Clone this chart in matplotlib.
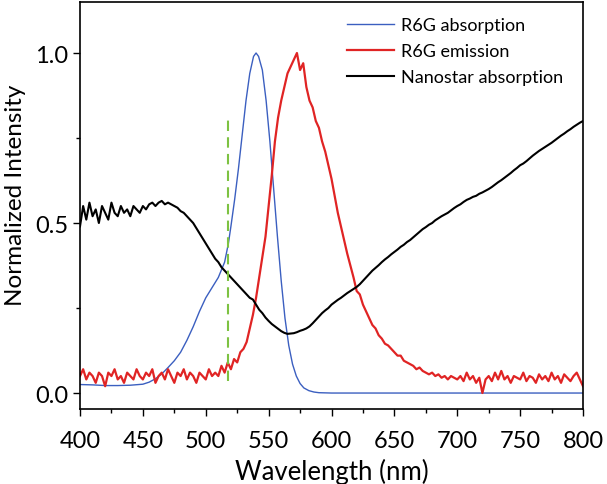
import numpy as np
import matplotlib
matplotlib.use("Agg")
import matplotlib.pyplot as plt
from matplotlib.ticker import MultipleLocator, FormatStrFormatter

plt.rcParams["font.family"] = ["Lato", "DejaVu Sans"]

# R6G absorption (smooth)
abs_wl = [400, 410, 420, 430, 440, 450, 455, 460, 465, 470, 475, 480, 485, 490,
          495, 500, 505, 510, 515, 518, 520, 523, 526, 529, 532, 535, 538, 540,
          542, 545, 548, 551, 554, 557, 560, 563, 566, 569, 572, 575, 578, 582,
          586, 590, 600, 700, 800]
abs_val = [0.025, 0.024, 0.022, 0.022, 0.023, 0.026, 0.032, 0.042, 0.056, 0.075,
           0.095, 0.12, 0.155, 0.195, 0.24, 0.28, 0.31, 0.34, 0.385, 0.44, 0.49,
           0.57, 0.66, 0.76, 0.86, 0.94, 0.99, 1.0, 0.99, 0.95, 0.86, 0.74, 0.6,
           0.46, 0.33, 0.22, 0.14, 0.085, 0.05, 0.028, 0.015, 0.007, 0.003,
           0.001, 0.0, 0.0, 0.0]

# sampled every 2.5 nm from 400 to 800
grid_wl = np.arange(400, 800.1, 2.5)

emis_val = [
    0.05, 0.07, 0.04, 0.06, 0.05, 0.03, 0.06, 0.05, 0.02, 0.06,
    0.05, 0.07, 0.04, 0.05, 0.03, 0.06, 0.05, 0.04, 0.07, 0.05,
    0.04, 0.06, 0.05, 0.07, 0.03, 0.05, 0.06, 0.04, 0.07, 0.05,
    0.03, 0.06, 0.05, 0.07, 0.04, 0.06, 0.05, 0.03, 0.06, 0.05,
    0.04, 0.07, 0.05, 0.06, 0.05, 0.08, 0.06, 0.09, 0.07, 0.10,
    0.09, 0.12, 0.13, 0.15, 0.19, 0.23, 0.28, 0.34, 0.40, 0.46,
    0.55, 0.64, 0.74, 0.81, 0.86, 0.90, 0.94, 0.96, 0.98, 1.00,
    0.95, 0.97, 0.90, 0.86, 0.84, 0.80, 0.78, 0.74, 0.71, 0.67,
    0.63, 0.58, 0.53, 0.49, 0.45, 0.41, 0.375, 0.34, 0.30, 0.29,
    0.26, 0.24, 0.22, 0.20, 0.19, 0.17, 0.16, 0.145, 0.14, 0.13,
    0.12, 0.11, 0.11, 0.095, 0.09, 0.085, 0.08, 0.07, 0.075, 0.065,
    0.06, 0.055, 0.06, 0.05, 0.055, 0.045, 0.05, 0.04, 0.05, 0.045,
    0.04, 0.05, 0.035, 0.06, 0.04, 0.05, 0.03, 0.045, 0.0, 0.04,
    0.05, 0.035, 0.06, 0.04, 0.065, 0.04, 0.05, 0.03, 0.05, 0.045,
    0.04, 0.06, 0.035, 0.05, 0.045, 0.03, 0.055, 0.04, 0.05, 0.035,
    0.06, 0.04, 0.05, 0.03, 0.055, 0.045, 0.035, 0.05, 0.06, 0.04,
    0.02,
]

star_val = [
    0.49, 0.55, 0.51, 0.56, 0.52, 0.54, 0.50, 0.55, 0.53, 0.51,
    0.56, 0.53, 0.52, 0.55, 0.53, 0.54, 0.52, 0.55, 0.54, 0.53,
    0.55, 0.54, 0.555, 0.56, 0.55, 0.56, 0.565, 0.555, 0.56, 0.555,
    0.55, 0.545, 0.535, 0.53, 0.52, 0.51, 0.50, 0.485, 0.47, 0.455,
    0.44, 0.425, 0.41, 0.395, 0.385, 0.37, 0.36, 0.35, 0.34, 0.33,
    0.32, 0.31, 0.30, 0.29, 0.28, 0.275, 0.26, 0.245, 0.235, 0.222,
    0.212, 0.203, 0.196, 0.189, 0.182, 0.177, 0.174, 0.175, 0.176, 0.179,
    0.183, 0.186, 0.19, 0.196, 0.205, 0.215, 0.225, 0.235, 0.243, 0.25,
    0.26, 0.267, 0.274, 0.28, 0.287, 0.294, 0.30, 0.306, 0.312, 0.32,
    0.33, 0.34, 0.35, 0.36, 0.368, 0.376, 0.385, 0.393, 0.40, 0.408,
    0.415, 0.422, 0.43, 0.436, 0.444, 0.45, 0.458, 0.466, 0.474, 0.482,
    0.488, 0.495, 0.50, 0.508, 0.514, 0.52, 0.525, 0.53, 0.537, 0.544,
    0.55, 0.555, 0.562, 0.568, 0.572, 0.577, 0.58, 0.586, 0.59, 0.595,
    0.60, 0.606, 0.613, 0.62, 0.626, 0.633, 0.64, 0.647, 0.655, 0.662,
    0.67, 0.675, 0.682, 0.69, 0.698, 0.705, 0.712, 0.718, 0.724, 0.73,
    0.736, 0.743, 0.75, 0.757, 0.763, 0.77, 0.776, 0.783, 0.789, 0.795,
    0.80,
]

excitation_wl = 518
excitation_range = (0.035, 0.815)

fig = plt.figure(figsize=(6.07, 4.85), dpi=100)
ax = fig.add_axes([0.1318, 0.1546, 0.8287, 0.8385])

ax.plot(abs_wl, abs_val, color="#3b5fc0", lw=1.0, label="R6G absorption")
ax.plot(grid_wl, emis_val, color="#e02424", lw=1.6, label="R6G emission")
ax.plot(grid_wl, star_val, color="black", lw=1.5, label="Nanostar absorption")
ax.plot([excitation_wl, excitation_wl], excitation_range, color="#7dc242",
        lw=1.5, ls=(0, (5, 3)))

ax.set_xlim(400, 800)
ax.set_ylim(-0.047, 1.149)
ax.xaxis.set_major_locator(MultipleLocator(50))
ax.xaxis.set_minor_locator(MultipleLocator(25))
ax.yaxis.set_major_locator(MultipleLocator(0.5))
ax.yaxis.set_minor_locator(MultipleLocator(0.25))
ax.yaxis.set_major_formatter(FormatStrFormatter("%.1f"))
ax.tick_params(which="both", direction="out", top=False, right=False,
               labelsize=17, width=1.0)
ax.tick_params(which="major", length=5)
ax.tick_params(which="minor", length=3)
ax.tick_params(axis="x", pad=10)
for sp in ax.spines.values():
    sp.set_linewidth(1.2)

ax.set_xlabel("Wavelength (nm)", fontsize=18.5, labelpad=5)
ax.set_ylabel("Normalized Intensity", fontsize=17.5)
ax.yaxis.set_label_coords(-0.107, 0.528)

ax.legend(loc="upper left", bbox_to_anchor=(0.506, 0.995), frameon=False,
          fontsize=13, handlelength=2.6, handletextpad=0.4,
          labelspacing=0.55, borderaxespad=0.3)

fig.savefig("out.png", dpi=100)
